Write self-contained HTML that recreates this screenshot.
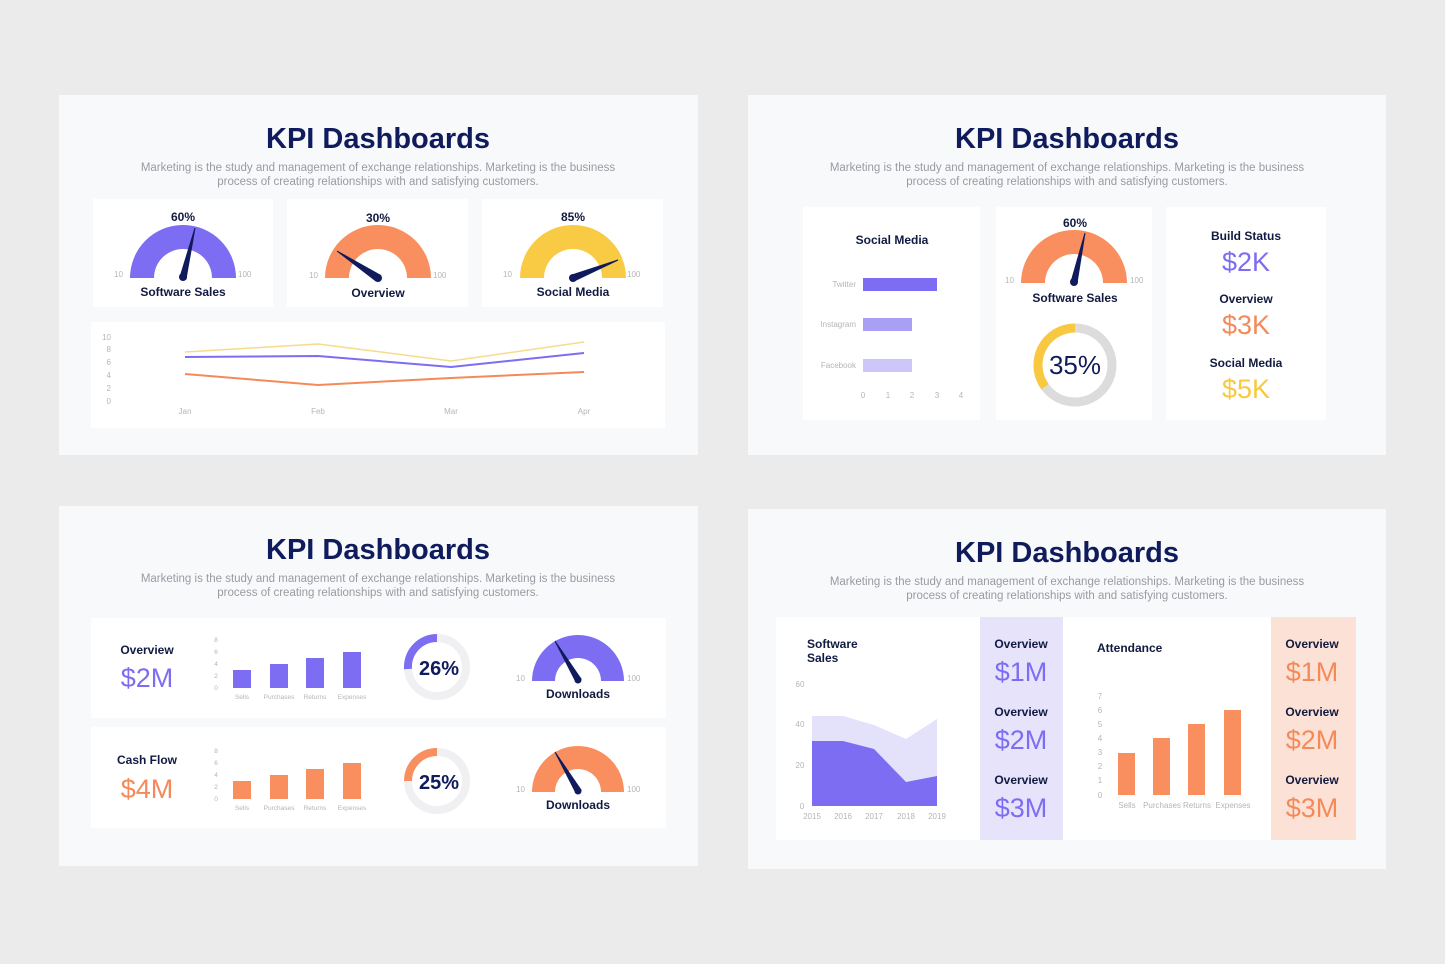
<!DOCTYPE html>
<html><head><meta charset="utf-8"><style>
html,body{margin:0;padding:0;background:#ebebeb;}
svg{display:block;font-family:"Liberation Sans",sans-serif;}
.t{font-size:29px;font-weight:bold;fill:#0f1b5c;text-anchor:middle;}
.s{font-size:11.5px;fill:#9a9aa2;text-anchor:middle;}
.l{font-size:12px;font-weight:bold;fill:#111a40;text-anchor:middle;}
.ls{font-size:12px;font-weight:bold;fill:#111a40;text-anchor:start;}
.ax{font-size:8px;fill:#b5b5b8;}
.axs{font-size:6.5px;fill:#b5b5b8;text-anchor:middle;}
.big{font-size:27px;text-anchor:middle;}
</style></head><body>
<svg width="1445" height="964" viewBox="0 0 1445 964">
<rect width="1445" height="964" fill="#ebebeb"/>
<rect x="59" y="95" width="639" height="360" fill="#f8f9fb"/>
<rect x="748" y="95" width="638" height="360" fill="#f8f9fb"/>
<rect x="59" y="506" width="639" height="360" fill="#f8f9fb"/>
<rect x="748" y="509" width="638" height="360" fill="#f8f9fb"/>

<g>
<text class="t" x="378" y="148">KPI Dashboards</text>
<text class="s" x="378" y="171">Marketing is the study and management of exchange relationships. Marketing is the business</text>
<text class="s" x="378" y="185">process of creating relationships with and satisfying customers.</text>
<text class="t" x="1067" y="148">KPI Dashboards</text>
<text class="s" x="1067" y="171">Marketing is the study and management of exchange relationships. Marketing is the business</text>
<text class="s" x="1067" y="185">process of creating relationships with and satisfying customers.</text>
<text class="t" x="378" y="559">KPI Dashboards</text>
<text class="s" x="378" y="582">Marketing is the study and management of exchange relationships. Marketing is the business</text>
<text class="s" x="378" y="596">process of creating relationships with and satisfying customers.</text>
<text class="t" x="1067" y="562">KPI Dashboards</text>
<text class="s" x="1067" y="585">Marketing is the study and management of exchange relationships. Marketing is the business</text>
<text class="s" x="1067" y="599">process of creating relationships with and satisfying customers.</text>
</g>

<!-- PANEL 1 -->
<rect x="93" y="199" width="180" height="108" fill="#fff"/>
<rect x="287" y="199" width="181" height="108" fill="#fff"/>
<rect x="482" y="199" width="181" height="108" fill="#fff"/>
<rect x="91" y="322" width="574" height="106" fill="#fff"/>
<path d="M130,278 A53,53 0 0 1 236,278 L212,278 A29,29 0 0 0 154,278Z" fill="#7c6df2"/>
<path d="M325,278 A53,53 0 0 1 431,278 L407,278 A29,29 0 0 0 349,278Z" fill="#f98e5f"/>
<path d="M520,278 A53,53 0 0 1 626,278 L602,278 A29,29 0 0 0 544,278Z" fill="#f9cb45"/>
<g stroke="#0f1b5c" stroke-linecap="round" fill="#0f1b5c">
<polygon points="180,277 186,279 195,228" stroke-width="1"/><circle cx="183" cy="277" r="4" stroke="none"/>
<polygon points="380,275 376,281 337,251" stroke-width="1"/><circle cx="378" cy="278" r="4" stroke="none"/>
<polygon points="572,275 574,281 618,260" stroke-width="1"/><circle cx="573" cy="278" r="4" stroke="none"/>
</g>
<text class="l" x="183" y="221">60%</text><text class="l" x="378" y="222">30%</text><text class="l" x="573" y="221">85%</text>
<text class="l" x="183" y="296">Software Sales</text><text class="l" x="378" y="297">Overview</text><text class="l" x="573" y="296">Social Media</text>
<g class="ax"><text x="114" y="277">10</text><text x="238" y="277">100</text><text x="309" y="278">10</text><text x="433" y="278">100</text><text x="503" y="277">10</text><text x="627" y="277">100</text></g>
<g class="ax" text-anchor="end"><text x="111" y="340">10</text><text x="111" y="352">8</text><text x="111" y="365">6</text><text x="111" y="378">4</text><text x="111" y="391">2</text><text x="111" y="404">0</text></g>
<g class="ax" text-anchor="middle"><text x="185" y="414">Jan</text><text x="318" y="414">Feb</text><text x="451" y="414">Mar</text><text x="584" y="414">Apr</text></g>
<polyline points="185,352 318,344 451,361 584,342" fill="none" stroke="#f6dc8a" stroke-width="1.5"/>
<polyline points="185,357 318,356 451,367 584,353" fill="none" stroke="#7c6df2" stroke-width="2"/>
<polyline points="185,374 318,385 451,378 584,372" fill="none" stroke="#f48a5a" stroke-width="2"/>

<!-- PANEL 2 -->
<rect x="803" y="207" width="177" height="213" fill="#fff"/>
<rect x="996" y="207" width="156" height="213" fill="#fff"/>
<rect x="1166" y="207" width="160" height="213" fill="#fff"/>
<text class="l" x="892" y="244">Social Media</text>
<rect x="863" y="278" width="74" height="13" fill="#7c6df2"/>
<rect x="863" y="318" width="49" height="13" fill="#a99ff5"/>
<rect x="863" y="359" width="49" height="13" fill="#cdc6f9"/>
<g class="ax" text-anchor="end"><text x="856" y="287">Twitter</text><text x="856" y="327">Instagram</text><text x="856" y="368">Facebook</text></g>
<g class="ax" text-anchor="middle"><text x="863" y="398">0</text><text x="888" y="398">1</text><text x="912" y="398">2</text><text x="937" y="398">3</text><text x="961" y="398">4</text></g>
<path d="M1021,283 A53,53 0 0 1 1127,283 L1103,283 A29,29 0 0 0 1045,283Z" fill="#f98e5f"/>
<polygon points="1071,282 1077,283 1085,233" fill="#0f1b5c" stroke="#0f1b5c"/><circle cx="1074" cy="282" r="4" fill="#0f1b5c"/>
<text class="l" x="1075" y="227">60%</text>
<text class="l" x="1075" y="302">Software Sales</text>
<g class="ax"><text x="1005" y="283">10</text><text x="1130" y="283">100</text></g>
<circle cx="1075" cy="365" r="37" fill="none" stroke="#dcdcdc" stroke-width="9"/>
<path d="M1075,328 A37,37 0 0 0 1045,386.7" fill="none" stroke="#f8c841" stroke-width="9"/>
<text x="1075" y="374" font-size="26" fill="#0f1b5c" text-anchor="middle">35%</text>
<text class="l" x="1246" y="240">Build Status</text>
<text class="big" x="1246" y="271" fill="#7c6df2">$2K</text>
<text class="l" x="1246" y="303">Overview</text>
<text class="big" x="1246" y="334" fill="#f48a5a">$3K</text>
<text class="l" x="1246" y="367">Social Media</text>
<text class="big" x="1246" y="398" fill="#f8c841">$5K</text>

<!-- PANEL 3 -->
<rect x="91" y="618" width="575" height="100" fill="#fff"/>
<rect x="91" y="727" width="575" height="101" fill="#fff"/>
<g>
<text class="l" x="147" y="654">Overview</text>
<text class="big" x="147" y="687" fill="#7c6df2">$2M</text>
<g class="axs"><text x="216" y="642">8</text><text x="216" y="654">6</text><text x="216" y="666">4</text><text x="216" y="678">2</text><text x="216" y="690">0</text>
<text x="242" y="699">Sells</text><text x="279" y="699">Purchases</text><text x="315" y="699">Returns</text><text x="352" y="699">Expenses</text></g>
<rect x="233" y="670" width="18" height="18" fill="#7c6df2"/>
<rect x="270" y="664" width="18" height="24" fill="#7c6df2"/>
<rect x="306" y="658" width="18" height="30" fill="#7c6df2"/>
<rect x="343" y="652" width="18" height="36" fill="#7c6df2"/>
<circle cx="437" cy="667" r="29" fill="none" stroke="#f0f0f2" stroke-width="8"/>
<path d="M437,638 A29,29 0 0 0 408,669" fill="none" stroke="#7c6df2" stroke-width="8"/>
<text x="439" y="675" font-size="20" font-weight="bold" fill="#0f1b5c" text-anchor="middle">26%</text>
<path d="M532,681 A46,46 0 0 1 624,681 L601,681 A23,23 0 0 0 555,681Z" fill="#7c6df2"/>
<polygon points="576,682 581,679 555,641" fill="#0f1b5c" stroke="#0f1b5c"/><circle cx="578" cy="680" r="3.5" fill="#0f1b5c"/>
<text class="l" x="578" y="698">Downloads</text>
<g class="ax"><text x="516" y="681">10</text><text x="627" y="681">100</text></g>
</g>
<g>
<text class="l" x="147" y="764">Cash Flow</text>
<text class="big" x="147" y="798" fill="#f48a5a">$4M</text>
<g class="axs"><text x="216" y="753">8</text><text x="216" y="765">6</text><text x="216" y="777">4</text><text x="216" y="789">2</text><text x="216" y="801">0</text>
<text x="242" y="810">Sells</text><text x="279" y="810">Purchases</text><text x="315" y="810">Returns</text><text x="352" y="810">Expenses</text></g>
<rect x="233" y="781" width="18" height="18" fill="#f98e5f"/>
<rect x="270" y="775" width="18" height="24" fill="#f98e5f"/>
<rect x="306" y="769" width="18" height="30" fill="#f98e5f"/>
<rect x="343" y="763" width="18" height="36" fill="#f98e5f"/>
<circle cx="437" cy="781" r="29" fill="none" stroke="#f0f0f2" stroke-width="8"/>
<path d="M437,752 A29,29 0 0 0 408,781" fill="none" stroke="#f98e5f" stroke-width="8"/>
<text x="439" y="789" font-size="20" font-weight="bold" fill="#0f1b5c" text-anchor="middle">25%</text>
<path d="M532,792 A46,46 0 0 1 624,792 L601,792 A23,23 0 0 0 555,792Z" fill="#f98e5f"/>
<polygon points="576,793 581,790 555,752" fill="#0f1b5c" stroke="#0f1b5c"/><circle cx="578" cy="791" r="3.5" fill="#0f1b5c"/>
<text class="l" x="578" y="809">Downloads</text>
<g class="ax"><text x="516" y="792">10</text><text x="627" y="792">100</text></g>
</g>

<!-- PANEL 4 -->
<rect x="776" y="617" width="580" height="223" fill="#fff"/>
<rect x="980" y="617" width="83" height="223" fill="#e6e3fb"/>
<rect x="1271" y="617" width="85" height="223" fill="#fce2d6"/>
<text class="ls" x="807" y="648">Software</text>
<text class="ls" x="807" y="662">Sales</text>
<g class="ax" text-anchor="middle"><text x="800" y="687">60</text><text x="800" y="727">40</text><text x="800" y="768">20</text><text x="802" y="809">0</text>
<text x="812" y="819">2015</text><text x="843" y="819">2016</text><text x="874" y="819">2017</text><text x="906" y="819">2018</text><text x="937" y="819">2019</text></g>
<polygon points="812,806 812,716 843,716 874,725 906,739 937,719 937,806" fill="#e4e1fb"/>
<polygon points="812,806 812,741 843,741 874,749 906,782 937,776 937,806" fill="#7c6df2"/>
<g>
<text class="l" x="1021" y="648">Overview</text><text class="big" x="1021" y="681" fill="#7c6df2" font-size="28">$1M</text>
<text class="l" x="1021" y="716">Overview</text><text class="big" x="1021" y="749" fill="#7c6df2" font-size="28">$2M</text>
<text class="l" x="1021" y="784">Overview</text><text class="big" x="1021" y="817" fill="#7c6df2" font-size="28">$3M</text>
<text class="l" x="1312" y="648">Overview</text><text class="big" x="1312" y="681" fill="#f48a5a" font-size="28">$1M</text>
<text class="l" x="1312" y="716">Overview</text><text class="big" x="1312" y="749" fill="#f48a5a" font-size="28">$2M</text>
<text class="l" x="1312" y="784">Overview</text><text class="big" x="1312" y="817" fill="#f48a5a" font-size="28">$3M</text>
</g>
<text class="ls" x="1097" y="652">Attendance</text>
<g class="ax" text-anchor="middle"><text x="1100" y="699">7</text><text x="1100" y="713">6</text><text x="1100" y="727">5</text><text x="1100" y="741">4</text><text x="1100" y="755">3</text><text x="1100" y="769">2</text><text x="1100" y="783">1</text><text x="1100" y="798">0</text>
<text x="1127" y="808">Sells</text><text x="1162" y="808">Purchases</text><text x="1197" y="808">Returns</text><text x="1233" y="808">Expenses</text></g>
<rect x="1118" y="753" width="17" height="42" fill="#f98e5f"/>
<rect x="1153" y="738" width="17" height="57" fill="#f98e5f"/>
<rect x="1188" y="724" width="17" height="71" fill="#f98e5f"/>
<rect x="1224" y="710" width="17" height="85" fill="#f98e5f"/>
</svg>
</body></html>
